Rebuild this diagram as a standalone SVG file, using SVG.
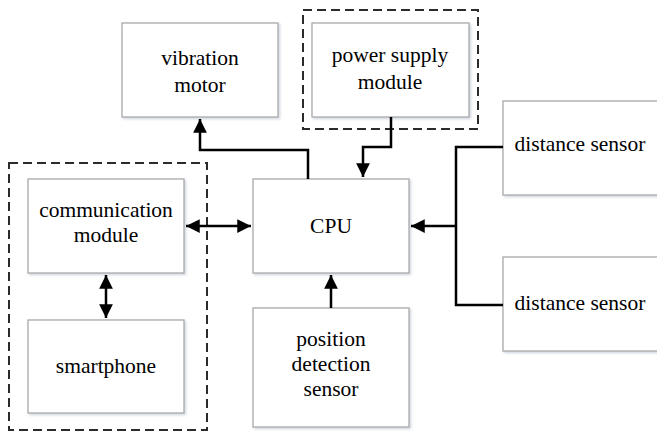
<svg xmlns="http://www.w3.org/2000/svg" width="657" height="433" viewBox="0 0 657 433">
<style>
.box{fill:#fff;stroke:#a9a9a9;stroke-width:1.3}
.dash{fill:none;stroke:#2b2b2b;stroke-width:2;stroke-dasharray:9 5}
text{font-family:'Times New Roman','Liberation Serif','DejaVu Serif',serif;font-size:21.5px;fill:#000;text-anchor:middle}
.c{fill:none;stroke:#000;stroke-width:2.5}
</style>
<defs>
<filter id="sh" x="-10%" y="-10%" width="130%" height="130%">
<feDropShadow dx="1.5" dy="1.5" stdDeviation="1" flood-color="#7a8aa6" flood-opacity="0.35"/>
</filter>
<marker id="ah" viewBox="0 0 10 10" refX="10" refY="5" markerWidth="5.5" markerHeight="5.5" orient="auto-start-reverse" markerUnits="strokeWidth">
<path d="M0,0 L10,5 L0,10 z" fill="#000"/>
</marker>
</defs>
<rect width="657" height="433" fill="#fff"/>
<rect class="dash" x="9" y="163" width="198" height="267"/>
<rect class="dash" x="303" y="10" width="175" height="119"/>
<g id="vibration-motor"><rect class="box" filter="url(#sh)" x="122" y="23" width="156" height="94"/><text x="200" y="65">vibration</text><text x="200" y="92">motor</text></g>
<g id="power-supply"><rect class="box" filter="url(#sh)" x="312" y="23" width="157" height="94"/><text x="390" y="62">power supply</text><text x="390" y="89">module</text></g>
<g id="distance-sensor-1"><rect class="box" filter="url(#sh)" x="503" y="101" width="160" height="94"/><text x="580" y="151">distance sensor</text></g>
<g id="distance-sensor-2"><rect class="box" filter="url(#sh)" x="503" y="257" width="160" height="94"/><text x="580" y="310">distance sensor</text></g>
<g id="cpu"><rect class="box" filter="url(#sh)" x="253" y="179" width="156" height="94"/><text x="331" y="233">CPU</text></g>
<g id="position-sensor"><rect class="box" filter="url(#sh)" x="253" y="308" width="156" height="119"/><text x="331" y="346">position</text><text x="331" y="371">detection</text><text x="331" y="396">sensor</text></g>
<g id="communication-module"><rect class="box" filter="url(#sh)" x="28" y="179" width="156" height="94"/><text x="106" y="217">communication</text><text x="106" y="242">module</text></g>
<g id="smartphone"><rect class="box" filter="url(#sh)" x="28" y="320" width="156" height="93"/><text x="106" y="373">smartphone</text></g>
<g id="connectors">
<path class="c" d="M308,179 V150 H200 V119" marker-end="url(#ah)"/>
<path class="c" d="M391,117 V147 H363 V177" marker-end="url(#ah)"/>
<path class="c" d="M503,147 H456 V305 H503"/>
<path class="c" d="M456,226 H411" marker-end="url(#ah)"/>
<path class="c" d="M186,226 H251" marker-start="url(#ah)" marker-end="url(#ah)"/>
<path class="c" d="M106,275 V318" marker-start="url(#ah)" marker-end="url(#ah)"/>
<path class="c" d="M331,308 V275" marker-end="url(#ah)"/>
</g>
</svg>
